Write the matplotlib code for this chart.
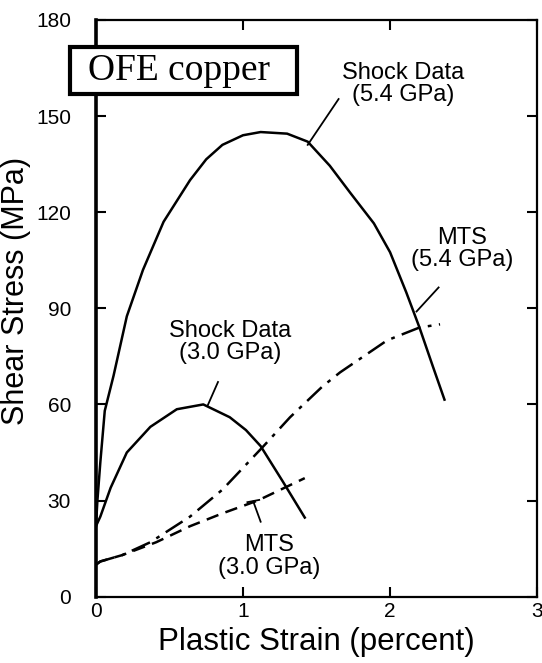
import matplotlib.pyplot as plt
from matplotlib.patches import Rectangle

plt.rcParams['font.family'] = ['Liberation Sans', 'DejaVu Sans']

# Shock data, 5.4 GPa
shock54_x = [0.0, 0.01, 0.03, 0.06, 0.12, 0.21, 0.32, 0.46, 0.64, 0.75, 0.86, 1.0, 1.12, 1.30, 1.44, 1.59, 1.73, 1.89, 2.0, 2.11, 2.2, 2.29, 2.37]
shock54_y = [22, 30, 42, 58, 69, 87.5, 102, 117, 130, 136.5, 141, 144, 145, 144.5, 142, 134.5, 126, 116.5, 107.5, 95, 84, 72, 61.5]

# Shock data, 3.0 GPa
shock30_x = [0.0, 0.03, 0.1, 0.21, 0.37, 0.55, 0.73, 0.91, 1.02, 1.12, 1.27, 1.42]
shock30_y = [22, 25, 34, 45, 53, 58.5, 60, 56, 52, 47, 36, 24.7]

# MTS model, 3.0 GPa
mts30_x = [0.0, 0.03, 0.18, 0.41, 0.64, 0.86, 1.1, 1.42]
mts30_y = [10, 11, 13, 17, 22, 26, 30, 37]

# MTS model, 5.4 GPa
mts54_x = [0.0, 0.03, 0.18, 0.37, 0.64, 0.86, 1.14, 1.32, 1.54, 1.66, 1.98, 2.2, 2.34]
mts54_y = [10, 11, 13, 17, 25, 33.4, 47, 56, 65.6, 70, 80, 84, 85]

xticks = [0, 1, 2, 3]
yticks = [0, 30, 60, 90, 120, 150, 180]

fig = plt.figure(figsize=(5.42, 6.63), dpi=100)
ax = fig.add_axes([0.177, 0.100, 0.814, 0.870])

lw = 1.8
ax.plot(shock54_x, shock54_y, color='black', lw=lw, solid_joinstyle='round')
ax.plot(shock30_x, shock30_y, color='black', lw=lw, solid_joinstyle='round')
ax.plot(mts30_x, mts30_y, color='black', lw=lw, dashes=(5, 3))
ax.plot(mts54_x, mts54_y, color='black', lw=lw, dashes=(8, 3, 1.5, 3))

ax.set_xlim(0, 3)
ax.set_ylim(0, 180)
ax.set_xticks(xticks)
ax.set_yticks(yticks)
ax.tick_params(direction='in', length=7, width=1.5, labelsize=15,
               top=True, right=True)
ax.tick_params(axis='y', pad=18)
ax.tick_params(axis='x', pad=4)
for side in ['top', 'right', 'bottom']:
    ax.spines[side].set_linewidth(1.6)
ax.spines['left'].set_linewidth(2.6)

ax.set_xlabel('Plastic Strain (percent)', fontsize=22.5, labelpad=4)
ax.set_ylabel('Shear Stress (MPa)', fontsize=22)
ax.yaxis.set_label_coords(-0.148, 0.53)

# curve labels with leader lines
ann = dict(fontsize=17, ha='center', va='center', linespacing=1.05)
ax.text(2.09, 160, 'Shock Data\n(5.4 GPa)', **ann)
ax.plot([1.65, 1.44], [155.3, 141], color='black', lw=1.3)

ax.text(2.49, 108.5, 'MTS\n(5.4 GPa)', **ann)
ax.plot([2.33, 2.18], [96.5, 89], color='black', lw=1.3)

ax.text(0.91, 79.5, 'Shock Data\n(3.0 GPa)', **ann)
ax.plot([0.83, 0.76], [67, 59.7], color='black', lw=1.3)

ax.text(1.18, 12.5, 'MTS\n(3.0 GPa)', **ann)
ax.plot([1.12, 1.07], [23.4, 29.7], color='black', lw=1.3)
ax.plot([1.03, 1.11], [29.5, 30.2], color='black', lw=1.3)

# title box
ax.add_patch(Rectangle((-0.177, 156.9), 1.544, 14.7, fc='white', ec='black',
                       lw=3, clip_on=False, zorder=5))
ax.text(0.565, 164, 'OFE copper', fontsize=27, family='Liberation Serif',
        ha='center', va='center', clip_on=False, zorder=6)

fig.savefig('out.png', dpi=100)
